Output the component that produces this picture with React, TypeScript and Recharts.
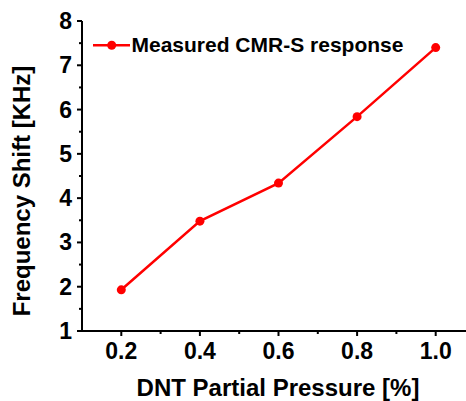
import React from 'react';
import { LineChart, Line, XAxis, YAxis, Legend, Label } from 'recharts';

const pressures = [0.2, 0.4, 0.6, 0.8, 1.0];
const shifts = [1.93, 3.48, 4.34, 5.84, 7.4];
const xTicks = [0.2, 0.3, 0.4, 0.5, 0.6, 0.7, 0.8, 0.9, 1.0];
const yTicks = [1, 1.5, 2, 2.5, 3, 3.5, 4, 4.5, 5, 5.5, 6, 6.5, 7, 7.5, 8];
const seriesName = 'Measured CMR-S response';
const xTitle = 'DNT Partial Pressure [%]';
const yTitle = 'Frequency Shift [KHz]';

const data = pressures.map((p, i) => ({ x: p, y: shifts[i] }));

const FONT = '"Liberation Sans", Arial, sans-serif';
const RED = '#ff0000';

const isMajorX = (v: number) => Math.round(v * 10) % 2 === 0;
const isMajorY = (v: number) => Math.abs(v - Math.round(v)) < 1e-6;

const BottomTick = (props: any) => {
  const { x, y, payload } = props;
  const major = isMajorX(payload.value);
  return (
    <g>
      <line x1={x} x2={x} y1={y} y2={y + (major ? 5 : 3)} stroke="#000" strokeWidth={2} />
      {major && (
        <text x={x} y={y + 28} textAnchor="middle" fontFamily={FONT} fontWeight="bold" fontSize={23} fill="#000">
          {Number(payload.value).toFixed(1)}
        </text>
      )}
    </g>
  );
};

const TopTick = (props: any) => {
  const { x, y, payload } = props;
  const major = isMajorX(payload.value);
  return <line x1={x} x2={x} y1={y} y2={y + (major ? 5 : 4)} stroke="#000" strokeWidth={2} />;
};

const LeftTick = (props: any) => {
  const { x, y, payload } = props;
  const major = isMajorY(payload.value);
  return (
    <g>
      <line x1={x - (major ? 5 : 3)} x2={x} y1={y} y2={y} stroke="#000" strokeWidth={2} />
      {major && (
        <text x={x - 10} y={y + 8} textAnchor="end" fontFamily={FONT} fontWeight="bold" fontSize={23} fill="#000">
          {payload.value}
        </text>
      )}
    </g>
  );
};

const LegendContent = () => (
  <svg width={340} height={30} style={{ display: 'block' }}>
    <line x1={8} x2={45} y1={15.3} y2={15.3} stroke={RED} strokeWidth={2.5} />
    <circle cx={26.7} cy={15.3} r={4.5} fill={RED} />
    <text x={46.5} y={21.7} fontFamily={FONT} fontWeight="bold" fontSize={21} fill="#000">
      {seriesName}
    </text>
  </svg>
);

export default function App() {
  return (
    <div style={{ position: 'absolute', left: 0, top: 0, width: 466, height: 401, overflow: 'hidden', background: '#fff' }}>
      <LineChart width={500} height={401} data={data} margin={{ top: 21, right: 25, bottom: 0, left: 0 }}>
        <XAxis
          dataKey="x"
          type="number"
          domain={[0.1, 1.1]}
          ticks={xTicks}
          height={70}
          tickSize={0}
          tickMargin={0}
          tick={BottomTick}
          axisLine={{ stroke: '#000', strokeWidth: 2 }}
          interval={0}
        >
          <Label
            content={() => (
              <text x={278} y={396} textAnchor="middle" fontFamily={FONT} fontWeight="bold" fontSize={24} fill="#000">
                {xTitle}
              </text>
            )}
          />
        </XAxis>
        <XAxis
          xAxisId="top"
          orientation="top"
          mirror
          dataKey="x"
          type="number"
          domain={[0.1, 1.1]}
          ticks={xTicks}
          height={0}
          tickSize={0}
          tickMargin={0}
          tick={TopTick}
          axisLine={{ stroke: '#000', strokeWidth: 2 }}
          interval={0}
        />
        <YAxis
          type="number"
          domain={[1, 8]}
          ticks={yTicks}
          width={82}
          tickSize={0}
          tickMargin={0}
          tick={LeftTick}
          axisLine={{ stroke: '#000', strokeWidth: 2 }}
          interval={0}
        >
          <Label
            content={() => (
              <text
                x={30}
                y={191}
                transform="rotate(-90 30 191)"
                textAnchor="middle"
                fontFamily={FONT}
                fontWeight="bold"
                fontSize={24}
                fill="#000"
              >
                {yTitle}
              </text>
            )}
          />
        </YAxis>
        <Legend
          layout="horizontal"
          verticalAlign="middle"
          align="center"
          wrapperStyle={{ left: 85, top: 30, width: 340 }}
          content={LegendContent}
        />
        <Line
          type="linear"
          dataKey="y"
          name={seriesName}
          stroke={RED}
          strokeWidth={2.5}
          dot={{ r: 4.5, fill: RED, stroke: RED, strokeWidth: 0 }}
          isAnimationActive={false}
        />
      </LineChart>
    </div>
  );
}
